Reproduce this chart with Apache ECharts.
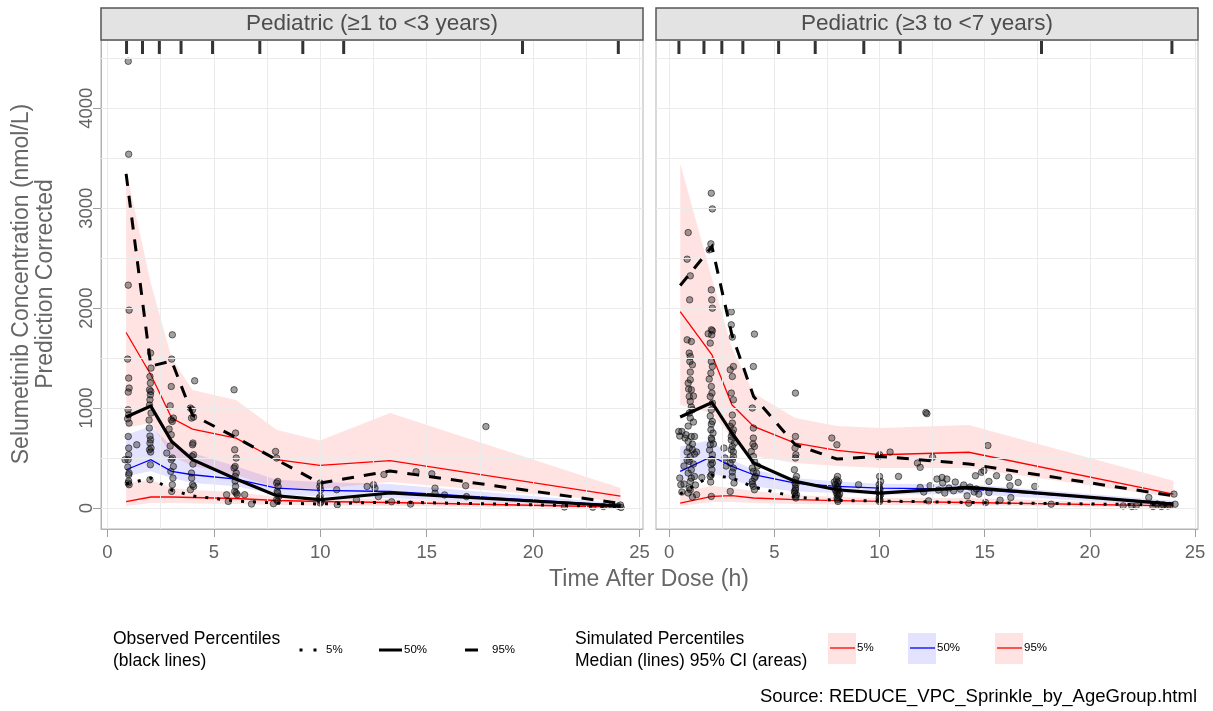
<!DOCTYPE html>
<html>
<head>
<meta charset="utf-8">
<script src="https://cdn.jsdelivr.net/npm/echarts@6/dist/echarts.min.js"></script>
<style>html,body{margin:0;padding:0;background:#fff}#chart{width:1213px;height:711px}</style>
</head>
<body>
<div id="chart"></div>
<script>
// ---------------- DATA ----------------
const panelTitles = ['Pediatric (\u22651 to <3 years)', 'Pediatric (\u22653 to <7 years)'];
const xTicks = [0, 5, 10, 15, 20, 25];
const yTicks = [0, 1000, 2000, 3000, 4000];
const xGrid = [0, 2.5, 5, 7.5, 10, 12.5, 15, 17.5, 20, 22.5, 25];
const yGrid = [0, 500, 1000, 1500, 2000, 2500, 3000, 3500, 4000, 4500];

// Left panel (>=1 to <3 years)
const binL = [0.88, 2.04, 3.02, 4.0, 6.04, 7.95, 9.98, 13.28, 24.1];
const obsP05L = [240, 300, 180, 120, 70, 50, 40, 60, 15];
const obsP50L = [910, 1020, 666, 483, 290, 123, 83, 150, 20];
const obsP95L = [3343, 1420, 1470, 930, 706, 483, 250, 370, 45];
const simP05L = [65, 110, 110, 105, 95, 75, 65, 55, 10];
const simP50L = [383, 483, 367, 333, 290, 200, 176, 165, 25];
const simP95L = [1756, 1333, 900, 790, 700, 483, 426, 475, 120];
const ci05LoL = [20, 50, 50, 45, 40, 30, 25, 20, 0];
const ci05HiL = [250, 283, 200, 180, 160, 110, 100, 90, 25];
const ci50LoL = [317, 367, 300, 250, 217, 133, 117, 97, 5];
const ci50HiL = [733, 817, 617, 550, 417, 283, 260, 240, 46];
const ci95LoL = [800, 850, 520, 420, 330, 200, 190, 260, 65];
const ci95HiL = [3380, 2250, 1500, 1180, 1080, 783, 676, 950, 200];
const rugL = [0.9, 1.65, 2.44, 3.46, 4.94, 7.16, 9.18, 11.1, 19.5, 24.0];
const ptsL = [
 [0.98,4470],[1.0,3540],[0.98,2230],[1.02,1980],[0.95,1490],[1.0,1300],[1.02,1200],[0.97,983],[1.0,933],[0.95,893],
 [1.02,850],[0.98,716],[1.0,533],[0.97,483],[0.83,483],[1.02,350],[1.0,333],[0.98,250],[1.02,233],[1.38,633],
 [0.98,1160],[1.0,600],[0.96,410],[1.0,270],
 [2.03,1550],[2.05,1400],[2.0,1316],[1.98,1183],[2.04,1166],[2.02,1133],[2.0,1083],[2.05,950],[1.97,800],[2.03,683],
 [2.0,650],[2.05,600],[1.98,583],[2.02,433],[2.0,283],[2.02,1250],[1.98,1030],[2.0,720],[2.03,560],[1.96,880],
 [3.05,1733],[3.02,1490],[3.0,1216],[2.95,1023],[3.1,900],[3.0,883],[3.05,866],[3.0,733],[2.79,550],[3.05,500],
 [3.0,483],[3.1,416],[2.98,366],[3.05,233],[3.02,166],[2.95,620],[3.08,300],[2.9,790],
 [4.1,1273],[3.9,1000],[4.0,983],[4.05,910],[3.95,900],[4.02,650],[4.0,633],[4.05,533],[3.98,516],[3.95,350],
 [4.0,233],[4.05,216],[3.9,183],[4.02,440],[3.96,300],
 [5.95,1183],[6.02,750],[5.98,583],[6.05,500],[6.0,416],[5.95,400],[6.05,350],[6.0,316],[6.02,216],[5.98,166],
 [6.05,150],[6.1,133],[5.6,133],[5.68,66],[6.45,133],[6.77,40],[6.0,270],
 [7.9,566],[7.95,500],[8.0,266],[7.95,250],[8.02,216],[7.98,166],[8.0,150],[8.05,116],[7.95,83],[8.0,66],[7.8,43],
 [10.0,250],[9.98,216],[10.02,183],[10.0,116],[9.95,100],[10.0,83],[10.05,66],[10.0,50],[10.77,183],[10.8,33],
 [11.7,83],[12.2,216],[12.5,233],
 [12.57,199],[12.73,114],[13.35,63],[12.99,335],[14.24,39],[14.5,363],[15.24,342],[15.39,199],[15.39,148],[15.84,131],
 [16.83,223],[16.87,114],[17.78,815],[21.47,10],[22.8,8],[23.3,15],[23.98,19],[24.13,5],[23.7,25],[24.1,30]
];

// Right panel (>=3 to <7 years)
const binR = [0.52, 2.03, 2.98, 4.01, 5.99, 7.97, 10.03, 14.24, 23.97];
const obsP05R = [140, 330, 300, 210, 110, 75, 70, 55, 30];
const obsP50R = [910, 1056, 750, 450, 266, 183, 150, 206, 38];
const obsP95R = [2226, 2616, 1733, 1117, 633, 490, 516, 441, 122];
const simP05R = [50, 116, 123, 100, 83, 73, 66, 55, 21];
const simP50R = [366, 516, 416, 333, 250, 216, 200, 189, 48];
const simP95R = [1966, 1533, 1033, 816, 650, 576, 533, 558, 139];
const ci05LoR = [20, 60, 60, 50, 40, 35, 30, 25, 5];
const ci05HiR = [160, 220, 200, 170, 130, 110, 100, 100, 40];
const ci50LoR = [266, 350, 283, 216, 166, 150, 133, 139, 21];
const ci50HiR = [616, 683, 483, 383, 300, 266, 243, 239, 72];
const ci95LoR = [1030, 950, 700, 520, 450, 420, 400, 400, 105];
const ci95HiR = [3450, 2300, 1600, 1150, 900, 820, 800, 830, 273];
const rugR = [0.46, 1.65, 2.5, 3.5, 5.2, 6.94, 9.25, 10.98, 17.7, 23.9];
const ptsR = [
 [0.9,2756],[0.85,2490],[1.0,2323],[0.97,2083],[0.85,1683],
 [1.05,1666],[0.95,1550],[1.0,1516],[0.98,1466],[1.1,1433],[1.0,1283],[0.9,1250],[1.05,1183],[0.95,1116],[1.0,1066],
 [1.1,983],[0.95,950],[1.0,900],[0.45,766],[0.6,766],[0.8,733],[1.05,716],[1.2,716],[0.9,666],[1.1,583],
 [1.0,516],[0.95,466],[1.05,383],[1.2,316],[1.0,266],[0.55,233],[1.0,183],[0.9,150],[1.3,133],[0.5,720],
 [0.75,700],[1.55,305],[0.7,420],[0.85,560],[1.15,860],[0.6,160],
 [1.0,1360],[1.05,1010],[0.9,820],[1.1,640],[0.95,600],[1.2,540],[0.85,480],[1.15,440],[0.9,350],[1.05,300],
 [1.25,230],[0.95,200],[1.1,110],[0.7,240],[1.3,560],[0.5,300],[1.15,1120],[0.92,1190],
 [2.0,3150],[2.05,2993],[1.98,2643],[1.9,2583],[2.0,2183],[2.02,2083],[2.05,2000],[2.05,1773],[1.85,1743],[2.0,1783],
 [2.02,1733],[1.95,1650],[2.0,1466],[2.05,1416],[1.98,1350],[2.0,1216],[2.03,1150],[1.95,1116],[2.0,983],[2.05,866],
 [1.98,783],[2.0,700],[2.02,683],[1.95,633],[2.05,533],[2.0,483],[1.98,433],[2.03,383],[2.0,333],[1.95,316],[2.0,116],
 [2.05,1050],[1.95,920],[2.0,840],[2.08,750],[1.92,580],[2.05,450],[1.97,260],[2.1,640],[1.9,1290],
 [2.95,1963],[2.95,1833],[3.0,1710],[3.05,1416],[2.9,1383],[3.0,1316],[2.95,1150],[3.05,1083],[3.0,850],[2.9,816],
 [3.05,783],[3.0,750],[2.95,716],[3.1,650],[3.0,616],[2.95,583],[3.05,516],[3.0,483],[2.9,450],[3.05,400],
 [3.0,316],[2.9,166],[2.6,600],[2.65,500],[2.7,420],[3.0,930],[2.95,680],[3.05,560],[3.0,360],[3.08,250],
 [4.05,1740],[4.0,1416],[3.95,1000],[4.0,700],[4.05,616],[3.9,566],[4.0,516],[4.05,466],[3.95,400],[4.0,366],
 [4.1,316],[3.95,266],[4.0,216],[4.05,183],[4.15,350],[4.2,420],[4.0,800],[3.98,640],[4.05,300],[3.95,240],
 [6.0,1150],[6.0,716],[5.98,600],[6.02,533],[6.0,500],[5.95,383],[6.05,316],[6.0,283],[5.98,250],[6.02,233],
 [6.0,200],[5.95,166],[6.05,133],[6.0,116],[6.02,100],[7.73,700],[7.97,633],[9.0,233],[6.0,180],[5.97,150],
 [8.0,316],[7.95,283],[8.05,266],[8.0,250],[7.9,233],[8.02,216],[7.98,200],[8.05,183],[8.0,166],[7.95,150],
 [8.0,133],[8.05,116],[7.98,100],[8.0,83],[8.02,66],[7.9,180],[8.1,140],[7.85,260],
 [10.0,533],[9.95,516],[10.0,316],[10.05,266],[9.98,233],[10.0,200],[10.02,183],[9.95,166],[10.0,150],[10.05,133],
 [10.0,116],[9.98,100],[10.02,83],[10.0,66],[10.5,560],[10.9,316],[11.8,450],[12.2,956],
 [12.25,944],[12.52,508],[11.93,407],[15.15,625],[14.85,357],[14.96,374],[14.56,323],[15.56,323],[16.15,306],[16.59,256],
 [16.2,223],[17.38,216],[15.2,266],[12.73,290],[12.97,306],[13.2,290],[13.52,172],[13.84,189],[14.16,122],[14.24,48],
 [14.5,160],[14.72,139],[15.04,55],[15.2,155],[15.73,78],[16.24,105],[18.16,38],[12.33,72],[11.93,206],[12.4,223],
 [13.0,250],[13.3,200],[13.6,260],[14.0,230],[14.3,210],[14.6,190],[13.1,150],[12.8,180],[12.1,160],
 [21.58,21],[22.0,15],[22.2,20],[22.8,105],[23.0,15],[23.2,40],[23.4,15],[23.7,20],[24.0,139],[24.05,38],[23.8,25],[23.5,30]
];

// ---------------- LAYOUT ----------------
const yMin = -210, yMax = 4683;
const xRange = [[-0.3, 25.16], [-0.63, 25.14]];
const G = [{left: 101, top: 40, width: 542, height: 489}, {left: 656, top: 40, width: 542, height: 489}];
const FONT = '"Liberation Sans", Arial, sans-serif';
const PINK = 'rgba(255,0,0,0.11)', BLUE = 'rgba(0,0,255,0.11)';

function pairs(xs, ys) { return xs.map((x, i) => [x, ys[i]]); }

function band(idx, xs, lo, hi, color) {
  return {
    type: 'custom', xAxisIndex: idx, yAxisIndex: idx, silent: true, z: 1,
    data: [[xs[0], lo[0]]],
    renderItem: function (params, api) {
      const pts = [];
      for (let i = 0; i < xs.length; i++) pts.push(api.coord([xs[i], hi[i]]));
      for (let i = xs.length - 1; i >= 0; i--) pts.push(api.coord([xs[i], lo[i]]));
      return {type: 'polygon', shape: {points: pts}, style: {fill: color}};
    }
  };
}
function line(idx, xs, ys, color, width, dash, z) {
  return {
    type: 'line', xAxisIndex: idx, yAxisIndex: idx, data: pairs(xs, ys), showSymbol: false, symbol: 'none',
    silent: true, z: z, animation: false,
    lineStyle: {color: color, width: width, type: dash || 'solid', cap: 'butt', join: 'miter'}
  };
}
function gridLines(idx) {
  const d = [];
  xGrid.forEach(v => d.push({xAxis: v}));
  yGrid.forEach(v => d.push({yAxis: v}));
  return {
    type: 'line', xAxisIndex: idx, yAxisIndex: idx, data: [], z: 0, silent: true,
    markLine: {silent: true, symbol: 'none', label: {show: false}, animation: false,
      lineStyle: {color: '#ebebeb', width: 1, type: 'solid'}, data: d}
  };
}
function panelSeries(idx, bins, o05, o50, o95, s05, s50, s95, c05l, c05h, c50l, c50h, c95l, c95h, pts, rug) {
  return [
    gridLines(idx),
    band(idx, bins, c05l, c05h, PINK),
    band(idx, bins, c50l, c50h, BLUE),
    band(idx, bins, c95l, c95h, PINK),
    line(idx, bins, s05, '#ff0000', 1.3, 'solid', 3),
    line(idx, bins, s50, '#0000ff', 1.3, 'solid', 3),
    line(idx, bins, s95, '#ff0000', 1.3, 'solid', 3),
    {type: 'scatter', xAxisIndex: idx, yAxisIndex: idx, data: pts, symbolSize: 6.5, z: 4, silent: true,
      itemStyle: {color: 'rgba(20,20,20,0.5)', borderColor: 'rgba(0,0,0,0.65)', borderWidth: 1}},
    line(idx, bins, o05, '#000', 3, [3, 9], 5),
    line(idx, bins, o50, '#000', 3.2, 'solid', 5),
    line(idx, bins, o95, '#000', 3, [12, 10], 5),
    {type: 'scatter', xAxisIndex: idx, yAxisIndex: idx, data: rug.map(x => [x, yMax]), symbol: 'rect',
      symbolSize: [3, 13], symbolOffset: [0, 7.5], clip: false, z: 6, silent: true, itemStyle: {color: '#000'}}
  ];
}

function xAxis(idx) {
  return {
    type: 'value', gridIndex: idx, min: xRange[idx][0], max: xRange[idx][1],
    splitLine: {show: false},
    axisLine: {show: true, onZero: false, lineStyle: {color: '#b3b3b3', width: 1}},
    axisTick: {show: true, length: 8, customValues: xTicks, lineStyle: {color: '#a0a0a0', width: 1}},
    axisLabel: {customValues: xTicks, margin: 14, fontSize: 18.5, color: '#636363', fontFamily: FONT,
      formatter: v => String(v)}
  };
}
function yAxis(idx) {
  return {
    type: 'value', gridIndex: idx, min: yMin, max: yMax,
    splitLine: {show: false},
    axisLine: {show: idx === 0, onZero: false, lineStyle: {color: '#b3b3b3', width: 1}},
    axisTick: {show: idx === 0, length: 8, customValues: yTicks, lineStyle: {color: '#a0a0a0', width: 1}},
    axisLabel: {show: idx === 0, customValues: yTicks, rotate: 90, margin: 5, fontSize: 18.5, color: '#636363', fontFamily: FONT,
      formatter: v => String(v)}
  };
}

const graphics = [];
// strips
G.forEach((g, i) => {
  graphics.push({type: 'rect', shape: {x: g.left, y: 8, width: g.width, height: 32},
    style: {fill: '#e3e3e3', stroke: '#555', lineWidth: 1.5}, z: 10});
  graphics.push({type: 'text', x: g.left + g.width / 2, y: 24,
    style: {text: panelTitles[i], fill: '#4d4d4d', font: '22.5px ' + FONT, textAlign: 'center', textVerticalAlign: 'middle'}, z: 11});
});
// axis titles
graphics.push({type: 'text', x: 34, y: 284, rotation: Math.PI / 2,
  style: {text: 'Selumetinib Concentration (nmol/L)\nPrediction Corrected', fill: '#666', font: '23px ' + FONT,
    textAlign: 'center', textVerticalAlign: 'middle', lineHeight: 24}});
graphics.push({type: 'text', x: 649, y: 580,
  style: {text: 'Time After Dose (h)', fill: '#666', font: '23px ' + FONT, textAlign: 'center', textVerticalAlign: 'middle'}});
// legend: observed
graphics.push({type: 'text', x: 113, y: 650,
  style: {text: 'Observed Percentiles\n(black lines)', fill: '#000', font: '17.5px ' + FONT, textVerticalAlign: 'middle', lineHeight: 22}});
graphics.push({type: 'polyline', shape: {points: [[299.5, 650], [317, 650]]}, style: {stroke: '#000', lineWidth: 3, lineDash: [3, 11]}});
graphics.push({type: 'text', x: 326, y: 650, style: {text: '5%', fill: '#000', font: '11.5px ' + FONT, textVerticalAlign: 'middle'}});
graphics.push({type: 'polyline', shape: {points: [[379, 650], [402, 650]]}, style: {stroke: '#000', lineWidth: 3}});
graphics.push({type: 'text', x: 404, y: 650, style: {text: '50%', fill: '#000', font: '11.5px ' + FONT, textVerticalAlign: 'middle'}});
graphics.push({type: 'polyline', shape: {points: [[465, 650], [478, 650]]}, style: {stroke: '#000', lineWidth: 3}});
graphics.push({type: 'text', x: 492, y: 650, style: {text: '95%', fill: '#000', font: '11.5px ' + FONT, textVerticalAlign: 'middle'}});
// legend: simulated
graphics.push({type: 'text', x: 575, y: 650,
  style: {text: 'Simulated Percentiles\nMedian (lines) 95% CI (areas)', fill: '#000', font: '17.5px ' + FONT, textVerticalAlign: 'middle', lineHeight: 22}});
[[828, PINK, '#ff0000', '5%'], [908, BLUE, '#0000ff', '50%'], [995, PINK, '#ff0000', '95%']].forEach(k => {
  graphics.push({type: 'rect', shape: {x: k[0], y: 633, width: 28, height: 31}, style: {fill: k[1]}});
  graphics.push({type: 'polyline', shape: {points: [[k[0] + 2, 648], [k[0] + 27, 648]]}, style: {stroke: k[2], lineWidth: 1.3}});
  graphics.push({type: 'text', x: k[0] + 29, y: 648, style: {text: k[3], fill: '#000', font: '11.5px ' + FONT, textVerticalAlign: 'middle'}});
});
graphics.push({type: 'text', x: 1197, y: 697,
  style: {text: 'Source: REDUCE_VPC_Sprinkle_by_AgeGroup.html', fill: '#000', font: '18.5px ' + FONT, textAlign: 'right', textVerticalAlign: 'middle'}});

const option = {
  animation: false,
  backgroundColor: '#fff',
  grid: G.map(g => Object.assign({show: true, borderColor: '#b3b3b3', borderWidth: 1, backgroundColor: 'transparent', containLabel: false}, g)),
  xAxis: [xAxis(0), xAxis(1)],
  yAxis: [yAxis(0), yAxis(1)],
  series: [].concat(
    panelSeries(0, binL, obsP05L, obsP50L, obsP95L, simP05L, simP50L, simP95L, ci05LoL, ci05HiL, ci50LoL, ci50HiL, ci95LoL, ci95HiL, ptsL, rugL),
    panelSeries(1, binR, obsP05R, obsP50R, obsP95R, simP05R, simP50R, simP95R, ci05LoR, ci05HiR, ci50LoR, ci50HiR, ci95LoR, ci95HiR, ptsR, rugR)
  ),
  graphic: graphics
};
const chart = echarts.init(document.getElementById('chart'), null, {renderer: 'canvas'});
chart.setOption(option);
</script>
</body>
</html>
